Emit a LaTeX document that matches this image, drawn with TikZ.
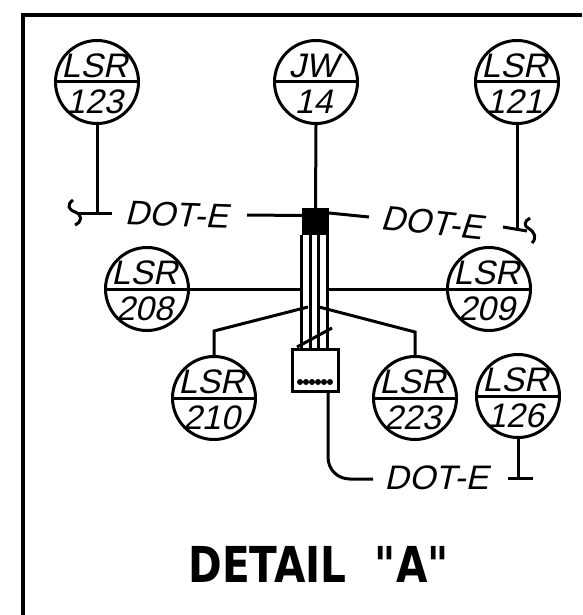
\documentclass[tikz,border=0pt]{standalone}
\usepackage{fontspec}
\setmainfont{Liberation Sans}
\newfontfamily\titlefont{DejaVu Sans}
\usepackage{tikz}
\tikzset{
  wire/.style={line width=3pt},
  bubble/.style={circle,draw,line width=3pt,minimum size=83pt,inner sep=0pt},
  tagtext/.style={inner sep=0pt,font=\fontsize{34}{34}\selectfont,xslant=0.22},
  calltext/.style={inner sep=0pt,font=\fontsize{34}{34}\selectfont,xslant=0.22},
}
% one instrument bubble: name, centre, top line, bottom line
\newcommand{\tagbubble}[4]{
  \node[bubble] (#1) at (#2) {};
  \draw[wire] (#1.west)--(#1.east);
  \node[tagtext] (#1top) at ([yshift=16pt]#1.center) {#3};
  \node[tagtext] (#1bot) at ([yshift=-20pt]#1.center) {#4};
}
\begin{document}
\begin{tikzpicture}[x=1pt,y=-1pt]
\useasboundingbox (0,0) rectangle (582,615);
\draw[line width=3.5pt] (23,615)--(23,15)--(582,15);
% bubbles
\tagbubble{a}{97,82}{LSR}{123}
\tagbubble{b}{316,82}{JW}{14}
\tagbubble{c}{517,82}{LSR}{121}
\tagbubble{d}{147,289}{LSR}{208}
\tagbubble{e}{489,289}{LSR}{209}
\tagbubble{f}{214,398}{LSR}{210}
\tagbubble{g}{415,398}{LSR}{223}
\tagbubble{h}{518,396}{LSR}{126}
% junction and box
\node[fill=black,minimum width=27pt,minimum height=27pt,inner sep=0pt] (jbox) at (315.5,221.5) {};
\node[draw,line width=3pt,minimum width=46pt,minimum height=42pt,inner sep=0pt] (ibox) at (315.5,370.5) {};
\node[calltext,rotate=-2] (dotl) at (179,215) {DOT-E};
\node[calltext,rotate=-6] (dotr) at (435,223) {DOT-E};
\node[calltext] (dotb) at (439,478) {DOT-E};
\node[inner sep=0pt,xscale=0.82,font=\titlefont\bfseries\fontsize{49.5}{50}\selectfont] (title) at (318.5,564) {DETAIL ~"A"};
% cables
\draw[wire] (a.south)--(97,213);
\draw[wire] (78,213)--(112,213);
\draw[wire] (73,200) .. controls (66,205) and (69,210) .. (75,212) .. controls (83,215) and (82,222) .. (75,225);
\draw[wire] (b.south)--(jbox.north);
\draw[wire] (247,215)--(302,215.5);
\draw[wire] (329,213)--(369,217);
\draw[wire] (c.south)--(517,229);
\draw[wire] (503,227)--(527,231);
\draw[wire] (530,218) .. controls (524,221) and (524,226) .. (528,228) .. controls (535,232) and (537,238) .. (532,243);
\draw[wire] (d.east)--(300,289);
\draw[wire] (327,289)--(e.west);
\foreach \x in {301,310,318,327} {\draw[wire] (\x,235)--(\x,349);}
\draw[wire] (f.north)--(214,331)--(308,307);
\draw[wire] (g.north)--(415,332)--(319,307);
\draw[wire] (297,347)--(332,328);
\draw[wire] (328,392)--(328,457) .. controls (328,470) and (338,479) .. (350,479)--(373,479);
\draw[wire] (h.south)--(518,478);
\draw[wire] (508,478)--(533,478);
\foreach \x in {300,306,312,318,324,330} {\fill (\x,382) circle (3pt);}
\end{tikzpicture}
\end{document}
